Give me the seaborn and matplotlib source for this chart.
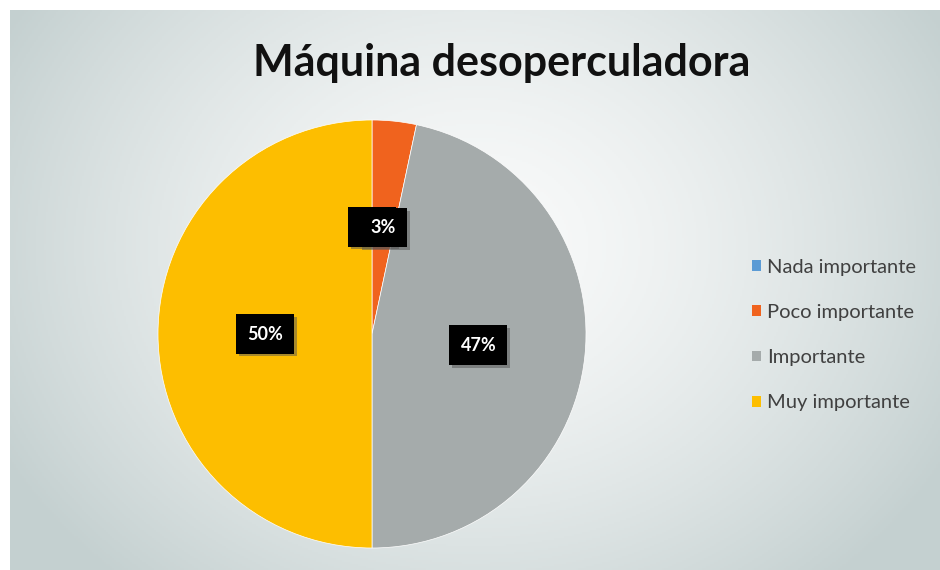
import numpy as np
import matplotlib
matplotlib.use("Agg")
import matplotlib.pyplot as plt
import seaborn as sns
from matplotlib.patches import Patch
import matplotlib.patheffects as pe

sns.set_theme(style="white")
plt.rcParams['font.family'] = ['Lato', 'DejaVu Sans']

title = "Máquina desoperculadora"
categories = ["Nada importante", "Poco importante", "Importante", "Muy importante"]
counts = [0, 1, 14, 15]
colors = ["#5B9BD5", "#F0631E", "#A5ABAB", "#FDBE00"]

fig = plt.figure(figsize=(9.4, 5.7), dpi=100)
fig.patch.set_facecolor("white")

# background gradient panel
bg = fig.add_axes([10/940, 0, 930/940, 560/570])
bg.set_axis_off()
H, W = 280, 465
yy, xx = np.mgrid[0:H, 0:W]
cx, cy = W*0.50, H*0.42
d = np.sqrt(((xx-cx)/(W*0.58))**2 + ((yy-cy)/(H*0.8))**2)
t = np.clip(d, 0, 1)**1.5
inner = np.array([249, 250, 250])/255
outer = np.array([196, 208, 208])/255
img = inner[None, None, :]*(1-t[..., None]) + outer[None, None, :]*t[..., None]
bg.imshow(img, aspect='auto', extent=[0, 1, 0, 1], origin='upper')
bg.set_xlim(0, 1); bg.set_ylim(0, 1)

# pie
r = 214
cxp, cyp = 372, 334
ax = fig.add_axes([(cxp-r)/940, (570-cyp-r)/570, 2*r/940, 2*r/570])
ax.set_axis_off()
total = sum(counts)
wedges, _ = ax.pie(counts, colors=colors, startangle=90, counterclock=False,
                   radius=1, wedgeprops=dict(linewidth=0.5, edgecolor="white"))
ax.set_xlim(-1, 1); ax.set_ylim(-1, 1)
ax.set_aspect('auto')

# labels
theta = 90.0
for i, c in enumerate(counts):
    ang = c/total*360
    mid = np.deg2rad(theta - ang/2)
    theta -= ang
    x, y = 0.5*np.cos(mid), 0.5*np.sin(mid)
    pct = f"{round(c/total*100)}%"
    t_ = ax.text(x, y, pct, ha='center', va='center', color='white', fontsize=13,
                 fontweight='bold', zorder=5+i,
                 bbox=dict(boxstyle='square,pad=0.62', facecolor='black', edgecolor='none'))
    t_.get_bbox_patch().set_path_effects([
        pe.SimplePatchShadow(offset=(2, -2), shadow_rgbFace='#555555', alpha=0.5),
        pe.Normal()])

fig.text(502/940, 1-63/570, title, ha='center', va='center', fontsize=31,
         fontweight='bold', color='#111111')

handles = [Patch(facecolor=c, edgecolor='none') for c in colors]
leg = fig.legend(handles, categories, loc='center left',
                 bbox_to_anchor=(742/940, 1-335/570), frameon=False,
                 fontsize=14.5, handlelength=0.45, handleheight=0.45,
                 handletextpad=0.3, labelspacing=1.4, borderpad=0)
for tx in leg.get_texts():
    tx.set_color('#404040')

fig.savefig("out.png", dpi=100)
